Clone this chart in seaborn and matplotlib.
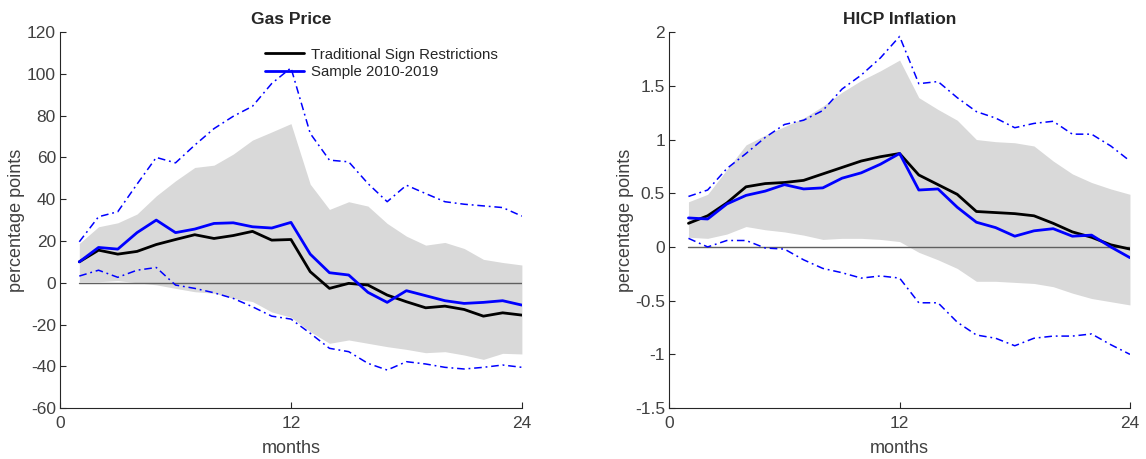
import numpy as np
import pandas as pd
import matplotlib
matplotlib.use("Agg")
import matplotlib.pyplot as plt
import seaborn as sns

months = np.arange(1, 25)

# Gas price responses (percentage points)
gas_trad = [10, 15.6, 13.7, 15, 18.3, 20.7, 23, 21.2, 22.6, 24.6, 20.4, 20.7,
            5.3, -2.7, -0.3, -1.1, -5.9, -9.1, -12, -11.2, -12.8, -16, -14.4, -15.5]
gas_sample = [10, 16.9, 16.1, 24, 30, 24, 25.7, 28.4, 28.7, 26.8, 26.2, 28.9,
              13.7, 4.8, 3.7, -4.6, -9.4, -3.8, -6.2, -8.6, -9.9, -9.4, -8.6, -10.7]
gas_sample_hi = [19.6, 31.6, 34, 47.2, 60, 57.4, 65.9, 73.8, 79.7, 84.5, 95.4, 102.9,
                 71.5, 58.7, 57.9, 47.5, 38.8, 46.7, 42.7, 38.8, 37.6, 36.8, 36, 31.9]
gas_sample_lo = [3.2, 6, 2.6, 6, 7.3, -1.1, -2.7, -4.8, -7.5, -11.5, -16, -17.4,
                 -24.2, -31.4, -33, -38.6, -41.8, -37.8, -38.9, -40.5, -41.3, -40.5, -39.4, -40.5]
gas_band_hi = [18.8, 26.8, 28.7, 32.9, 41.6, 48.8, 55.2, 56.3, 61.6, 68.3, 72.2, 76.2,
               47.2, 35.1, 38.8, 36.7, 28.4, 22.3, 18, 19.3, 16.4, 11.2, 9.7, 8.5]
gas_band_lo = [0.5, 0.5, 1, 0, -1, -2.7, -4.3, -5, -7.5, -9, -14, -16.5,
               -23.4, -29, -27.4, -29, -30.6, -31.9, -33.5, -33, -34.6, -36.7, -33.8, -34.1]

# HICP inflation responses (percentage points)
hicp_trad = [0.22, 0.29, 0.41, 0.56, 0.59, 0.6, 0.62, 0.68, 0.74, 0.8, 0.84, 0.87,
             0.67, 0.58, 0.49, 0.33, 0.32, 0.31, 0.29, 0.22, 0.14, 0.09, 0.02, -0.02]
hicp_sample = [0.27, 0.26, 0.40, 0.48, 0.52, 0.58, 0.54, 0.55, 0.64, 0.69, 0.77, 0.87,
               0.53, 0.54, 0.37, 0.23, 0.18, 0.1, 0.15, 0.17, 0.1, 0.11, 0.0, -0.1]
hicp_sample_hi = [0.47, 0.53, 0.73, 0.87, 1.02, 1.14, 1.18, 1.27, 1.47, 1.6, 1.76, 1.96,
                  1.52, 1.54, 1.39, 1.26, 1.2, 1.11, 1.15, 1.17, 1.05, 1.05, 0.94, 0.8]
hicp_sample_lo = [0.08, 0.0, 0.06, 0.06, -0.01, -0.02, -0.12, -0.2, -0.24, -0.29, -0.27, -0.29,
                  -0.52, -0.52, -0.7, -0.82, -0.85, -0.92, -0.85, -0.83, -0.83, -0.81, -0.91, -1.0]
hicp_band_hi = [0.42, 0.49, 0.72, 0.95, 1.04, 1.12, 1.2, 1.31, 1.44, 1.55, 1.64, 1.74,
                1.39, 1.28, 1.18, 1.0, 0.98, 0.97, 0.94, 0.8, 0.68, 0.6, 0.54, 0.49]
hicp_band_lo = [0.09, 0.08, 0.12, 0.19, 0.16, 0.14, 0.11, 0.07, 0.08, 0.08, 0.07, 0.05,
                -0.05, -0.12, -0.2, -0.32, -0.32, -0.33, -0.34, -0.37, -0.43, -0.48, -0.51, -0.54]

gas_yticks = np.arange(-60, 121, 20)
hicp_yticks = [-1.5, -1, -0.5, 0, 0.5, 1, 1.5, 2]
hicp_ylabels = ["-1.5", "-1", "-0.5", "0", "0.5", "1", "1.5", "2"]
xticks = [0, 12, 24]

sns.set_theme(style="ticks")
plt.rcParams["font.family"] = ["Liberation Sans", "DejaVu Sans"]
plt.rcParams["xtick.direction"] = "in"
plt.rcParams["ytick.direction"] = "in"
plt.rcParams["axes.edgecolor"] = "#262626"
plt.rcParams["xtick.color"] = "#262626"
plt.rcParams["ytick.color"] = "#262626"

fig = plt.figure(figsize=(11.46, 4.59), dpi=100)
ax1 = fig.add_axes([0.0524, 0.111, 0.403, 0.819])
ax2 = fig.add_axes([0.584, 0.111, 0.402, 0.819])

dashdot = (0, (5, 2.5, 1.2, 2.5))


def draw_panel(ax, title, trad, sample, s_hi, s_lo, b_hi, b_lo, yticks, ylabels, ylim):
    df = pd.DataFrame({"month": months, "trad": trad, "sample": sample,
                       "hi": s_hi, "lo": s_lo, "bhi": b_hi, "blo": b_lo})
    ax.fill_between(df["month"], df["blo"], df["bhi"], color="#d9d9d9", lw=0)
    ax.plot([1, 24], [0, 0], color="#606060", lw=1.0)
    sns.lineplot(data=df, x="month", y="trad", ax=ax, color="black", lw=2,
                 label="Traditional Sign Restrictions")
    sns.lineplot(data=df, x="month", y="sample", ax=ax, color="#0000ff", lw=2,
                 label="Sample 2010-2019")
    sns.lineplot(data=df, x="month", y="hi", ax=ax, color="#0000ff", lw=1.1,
                 linestyle=dashdot, legend=False)
    sns.lineplot(data=df, x="month", y="lo", ax=ax, color="#0000ff", lw=1.1,
                 linestyle=dashdot, legend=False)
    ax.set_xlim(0, 24)
    ax.set_ylim(*ylim)
    ax.set_xticks(xticks)
    ax.set_yticks(yticks)
    ax.set_yticklabels(ylabels)
    ax.tick_params(labelsize=12.5, labelcolor="#404040", length=4, width=0.8, pad=3)
    ax.tick_params(axis="x", pad=6)
    ax.set_xlabel("months", fontsize=13, color="#404040", labelpad=6)
    ax.set_ylabel("percentage points", fontsize=13, color="#404040", labelpad=1)
    ax.set_title(title, fontsize=12.5, fontweight="bold", pad=6)
    sns.despine(ax=ax)
    for sp in ax.spines.values():
        sp.set_linewidth(0.8)


draw_panel(ax1, "Gas Price", gas_trad, gas_sample, gas_sample_hi, gas_sample_lo,
           gas_band_hi, gas_band_lo, gas_yticks, [str(v) for v in gas_yticks], (-60, 120))
draw_panel(ax2, "HICP Inflation", hicp_trad, hicp_sample, hicp_sample_hi, hicp_sample_lo,
           hicp_band_hi, hicp_band_lo, hicp_yticks, hicp_ylabels, (-1.5, 2))

ax1.legend(loc="upper left", bbox_to_anchor=(0.43, 0.975), frameon=False,
           fontsize=10.8, handlelength=2.6, handletextpad=0.5, labelspacing=0.25,
           borderaxespad=0)
ax2.get_legend().remove()

fig.savefig("out.png", dpi=100)
